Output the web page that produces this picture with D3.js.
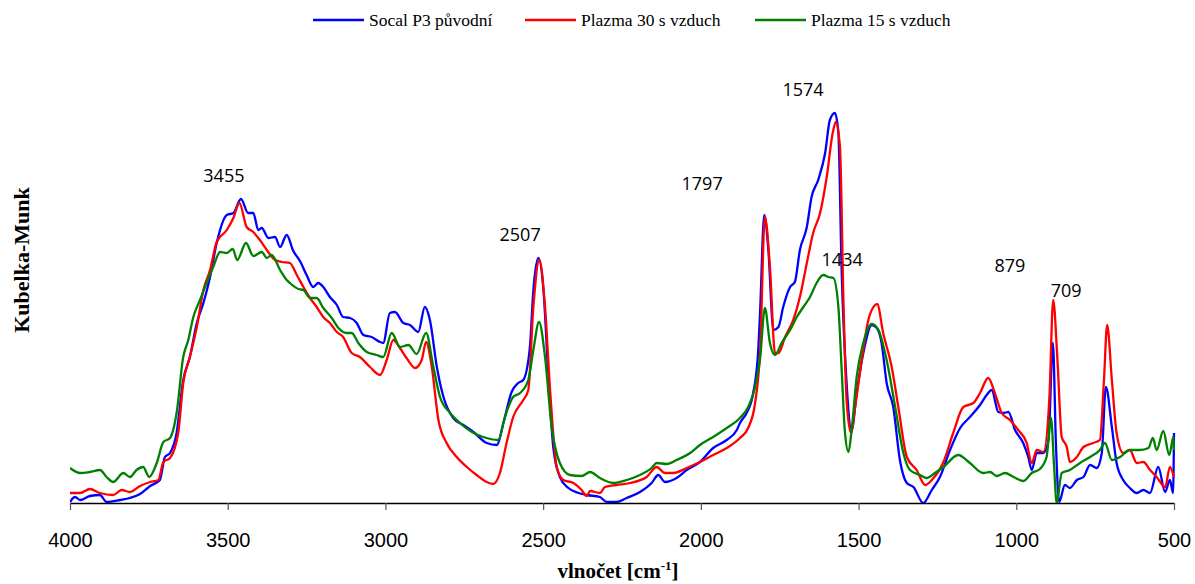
<!DOCTYPE html>
<html>
<head>
<meta charset="utf-8">
<script src="https://cdn.jsdelivr.net/npm/d3@7"></script>
<style>
  body { margin: 0; background: #fff; }
  svg { display: block; }
</style>
</head>
<body>
<div id="chart"></div>
<script>
// wavenumber [cm-1] and Kubelka-Munk values
var wnSocal = [4000,3984,3968,3937,3905,3884,3841,3810,3778,3746,3715,3699,3683,3662,3641,3620,3598,3577,3556,3535,3503,3482,3458,3435,3419,3403,3392,3371,3350,3334,3313,3292,3271,3250,3229,3213,3197,3176,3154,3134,3112,3091,3070,3044,3017,3007,2986,2970,2943,2922,2896,2875,2859,2837,2816,2785,2753,2721,2679,2647,2626,2600,2579,2563,2542,2531,2515,2499,2484,2468,2447,2420,2388,2362,2320,2298,2267,2235,2193,2156,2135,2114,2077,2045,2003,1961,1918,1886,1876,1855,1834,1818,1812,1799,1786,1770,1754,1739,1717,1702,1686,1664,1649,1628,1606,1591,1575,1564,1554,1538,1522,1506,1485,1458,1442,1427,1411,1390,1369,1347,1326,1295,1268,1242,1210,1178,1147,1115,1094,1078,1057,1041,1025,1004,978,962,951,935,914,898,884,874,864,846,830,808,787,766,745,729,716,697,682,661,640,618,597,576,550,528,513,503,500];
var kmSocal = [0.01,0.06,0.03,0.07,0.08,0.01,0.03,0.05,0.09,0.17,0.23,0.46,0.50,0.70,1.23,1.46,1.80,2.00,2.26,2.60,2.88,2.90,3.04,2.90,2.90,2.73,2.75,2.65,2.66,2.56,2.68,2.52,2.42,2.28,2.16,2.20,2.16,2.06,1.98,1.86,1.85,1.80,1.68,1.66,1.61,1.60,1.90,1.91,1.80,1.78,1.71,1.96,1.83,1.36,1.06,0.85,0.78,0.71,0.60,0.58,0.80,1.11,1.20,1.23,1.56,2.13,2.45,2.13,1.30,0.56,0.26,0.15,0.10,0.08,0.06,0.01,0.01,0.05,0.11,0.20,0.28,0.21,0.25,0.33,0.41,0.55,0.63,0.73,0.80,0.90,1.10,1.53,1.93,2.88,2.53,1.73,1.76,1.96,2.16,2.21,2.53,2.76,3.06,3.23,3.50,3.83,3.90,3.70,2.36,1.20,0.73,1.10,1.50,1.78,1.75,1.60,1.20,0.96,0.43,0.20,0.16,0.00,0.13,0.26,0.53,0.75,0.86,0.98,1.08,1.13,0.91,0.90,0.91,0.73,0.60,0.46,0.33,0.50,0.50,0.63,1.60,0.56,0.01,0.18,0.15,0.23,0.26,0.38,0.35,0.50,1.16,0.76,0.40,0.23,0.15,0.10,0.13,0.10,0.36,0.11,0.23,0.10,0.70];

var wnPl30 = [4000,3968,3937,3905,3863,3836,3810,3778,3746,3720,3704,3683,3657,3641,3620,3598,3577,3556,3535,3503,3482,3463,3440,3419,3398,3376,3350,3329,3303,3281,3260,3239,3218,3197,3176,3154,3134,3107,3081,3049,3017,2996,2975,2954,2933,2906,2885,2871,2853,2832,2806,2774,2742,2711,2679,2658,2637,2616,2595,2563,2547,2531,2512,2494,2478,2457,2436,2404,2378,2362,2351,2320,2304,2267,2225,2172,2140,2114,2087,2045,2003,1961,1918,1876,1850,1828,1812,1797,1781,1765,1754,1733,1707,1686,1664,1644,1622,1601,1582,1572,1559,1548,1538,1524,1511,1490,1469,1453,1441,1422,1395,1374,1347,1316,1289,1268,1231,1200,1168,1136,1115,1089,1068,1046,1020,994,967,951,935,914,895,883,869,856,840,830,808,787,756,735,722,712,697,682,661,640,618,597,576,555,528,513,500];
var kmPl30 = [0.10,0.10,0.14,0.10,0.08,0.13,0.11,0.17,0.21,0.23,0.41,0.45,0.70,1.20,1.46,1.76,2.13,2.33,2.61,2.73,2.85,3.00,2.76,2.71,2.63,2.53,2.43,2.41,2.40,2.28,2.16,2.05,1.96,1.86,1.80,1.71,1.66,1.50,1.46,1.36,1.28,1.43,1.63,1.55,1.45,1.35,1.43,1.61,1.36,0.83,0.60,0.46,0.36,0.28,0.21,0.19,0.30,0.60,0.86,1.03,1.13,1.96,2.43,1.96,1.13,0.36,0.23,0.20,0.13,0.07,0.12,0.10,0.16,0.18,0.20,0.26,0.36,0.30,0.30,0.35,0.41,0.48,0.55,0.65,0.75,1.00,1.53,2.86,2.36,1.50,1.50,1.66,1.83,2.06,2.40,2.70,2.90,3.26,3.70,3.81,3.56,2.03,1.03,0.70,0.96,1.43,1.83,1.96,1.99,1.70,1.36,0.96,0.46,0.33,0.18,0.23,0.41,0.70,0.96,1.00,1.10,1.25,1.10,0.90,0.83,0.73,0.60,0.40,0.53,0.51,1.06,2.03,1.40,0.66,0.56,0.41,0.46,0.56,0.60,0.63,1.23,1.78,1.23,0.70,0.50,0.53,0.40,0.41,0.33,0.26,0.16,0.36,0.26];

var wnPl15 = [4000,3968,3937,3905,3884,3863,3831,3810,3789,3768,3749,3725,3704,3683,3662,3641,3625,3609,3588,3567,3546,3524,3503,3484,3470,3442,3419,3392,3376,3361,3334,3313,3303,3276,3260,3239,3218,3197,3170,3149,3123,3107,3086,3059,3028,3007,2980,2954,2927,2901,2871,2848,2827,2795,2764,2726,2690,2642,2621,2595,2573,2547,2531,2513,2494,2473,2447,2415,2378,2351,2320,2278,2235,2193,2156,2140,2108,2077,2034,2003,1961,1918,1876,1850,1828,1812,1797,1781,1765,1744,1717,1696,1675,1654,1633,1612,1596,1580,1564,1554,1543,1532,1522,1506,1485,1458,1437,1411,1384,1358,1337,1305,1284,1258,1231,1184,1147,1105,1083,1062,1036,1009,978,951,925,904,890,880,872,856,830,798,766,735,719,697,671,640,608,581,567,555,534,515,502,500];
var kmPl15 = [0.35,0.30,0.31,0.33,0.26,0.21,0.30,0.26,0.33,0.36,0.26,0.40,0.61,0.65,0.90,1.46,1.63,1.86,2.03,2.20,2.36,2.51,2.50,2.54,2.43,2.60,2.47,2.51,2.45,2.48,2.33,2.23,2.20,2.14,2.13,2.05,2.05,1.95,1.85,1.75,1.70,1.70,1.60,1.51,1.48,1.46,1.70,1.56,1.58,1.49,1.70,1.36,1.06,0.90,0.80,0.71,0.66,0.63,0.86,1.06,1.10,1.23,1.53,1.81,1.46,0.76,0.40,0.28,0.27,0.31,0.25,0.20,0.23,0.28,0.35,0.40,0.39,0.43,0.50,0.58,0.66,0.75,0.85,0.96,1.16,1.45,1.95,1.60,1.48,1.60,1.73,1.86,1.96,2.06,2.20,2.28,2.26,2.25,1.96,1.36,0.70,0.51,0.73,1.26,1.60,1.79,1.73,1.43,0.96,0.50,0.33,0.28,0.25,0.30,0.36,0.48,0.40,0.30,0.31,0.27,0.30,0.26,0.22,0.30,0.34,0.46,0.85,0.36,0.00,0.30,0.33,0.40,0.46,0.53,0.60,0.43,0.46,0.53,0.53,0.55,0.65,0.53,0.72,0.48,0.66,0.53];

var seriesNames = ['Socal P3 původní', 'Plazma 30 s vzduch', 'Plazma 15 s vzduch'];
var seriesColors = ['#0000ff', '#ff0000', '#008000'];
var xTicks = [4000, 3500, 3000, 2500, 2000, 1500, 1000, 500];

// peak annotations: text, label anchor wavenumber, label height
var peakText = ['3455', '2507', '1797', '1574', '1434', '879', '709'];
var peakWn   = [3512, 2573, 1996, 1676, 1552, 1020, 842];
var peakKm   = [3.27, 2.68, 3.19, 4.13, 2.43, 2.37, 2.12];

var W = 1195, H = 584
  , margin = {top: 63, left: 70, bottom: 81, right: 21};

var x = d3.scaleLinear().domain([4000, 500]).range([margin.left, W - margin.right]);
var y = d3.scaleLinear().domain([0, 4.4]).range([H - margin.bottom, margin.top]);

var svg = d3.select('#chart').append('svg')
    .attr('width', W).attr('height', H)
    .attr('viewBox', '0 0 ' + W + ' ' + H);

var series = [
    {name: seriesNames[0], color: seriesColors[0], wn: wnSocal, km: kmSocal}
  , {name: seriesNames[1], color: seriesColors[1], wn: wnPl30, km: kmPl30}
  , {name: seriesNames[2], color: seriesColors[2], wn: wnPl15, km: kmPl15}
];

var line = d3.line()
    .x(function(d){ return x(d[0]); })
    .y(function(d){ return y(d[1]); })
    .curve(d3.curveMonotoneX);

svg.append('defs').append('clipPath').attr('id', 'plotclip')
  .append('rect')
    .attr('x', margin.left).attr('y', 0)
    .attr('width', W - margin.left - margin.right + 3)
    .attr('height', H - margin.bottom + 2);

svg.append('g').attr('clip-path', 'url(#plotclip)')
  .selectAll('path.spectrum')
  .data(series)
  .enter().append('path')
    .classed('spectrum', true)
    .attr('fill', 'none')
    .attr('stroke', function(d){ return d.color; })
    .attr('stroke-width', 2.3)
    .attr('stroke-linejoin', 'round')
    .attr('d', function(d){
        return line(d.wn.map(function(w, i){ return [w, d.km[i]]; }));
    });

// x axis
var xaxis = svg.append('g')
    .attr('transform', 'translate(0,' + y(0) + ')')
    .call(d3.axisBottom(x).tickValues(xTicks).tickFormat(d3.format('d'))
            .tickSize(7).tickSizeOuter(0).tickPadding(23));
xaxis.select('.domain').attr('stroke', '#000').attr('stroke-width', 1.3);
xaxis.selectAll('.tick line').attr('stroke', '#555').attr('stroke-width', 1.2);
xaxis.selectAll('.tick text')
    .attr('fill', '#000')
    .style('font-family', '"Liberation Sans", Arial, sans-serif')
    .style('font-size', '20px');

// axis titles
var xt = svg.append('text')
    .attr('x', 618).attr('y', 578)
    .attr('text-anchor', 'middle')
    .style('font-family', '"Liberation Serif", "Times New Roman", serif')
    .style('font-size', '21px').style('font-weight', 'bold');
xt.append('tspan').text('vlnočet [cm');
xt.append('tspan').attr('dy', -8).style('font-size', '13px').text('-1');
xt.append('tspan').attr('dy', 8).text(']');

svg.append('text')
    .attr('transform', 'translate(29,260) rotate(-90)')
    .attr('text-anchor', 'middle')
    .style('font-family', '"Liberation Serif", "Times New Roman", serif')
    .style('font-size', '22px').style('font-weight', 'bold')
    .text('Kubelka-Munk');

// peak labels
svg.append('g').selectAll('text')
  .data(peakText)
  .enter().append('text')
    .attr('x', function(d, i){ return x(peakWn[i]); })
    .attr('y', function(d, i){ return y(peakKm[i]); })
    .attr('dy', '0.35em')
    .attr('text-anchor', 'middle')
    .style('font-family', '"Open Sans", sans-serif')
    .style('font-size', '18px')
    .attr('fill', '#000')
    .text(function(d){ return d; });

// legend
var legendX = [313, 525, 755];
var lg = svg.append('g').selectAll('g.item')
  .data(series)
  .enter().append('g').classed('item', true)
    .attr('transform', function(d, i){ return 'translate(' + legendX[i] + ',20)'; });
lg.append('line')
    .attr('x1', 0).attr('x2', 51).attr('y1', 0).attr('y2', 0)
    .attr('stroke', function(d){ return d.color; })
    .attr('stroke-width', 2.3);
lg.append('text')
    .attr('x', 56).attr('y', 0).attr('dy', '0.33em')
    .style('font-family', '"Liberation Serif", "Times New Roman", serif')
    .style('font-size', '17.5px')
    .text(function(d){ return d.name; });
</script>
</body>
</html>
